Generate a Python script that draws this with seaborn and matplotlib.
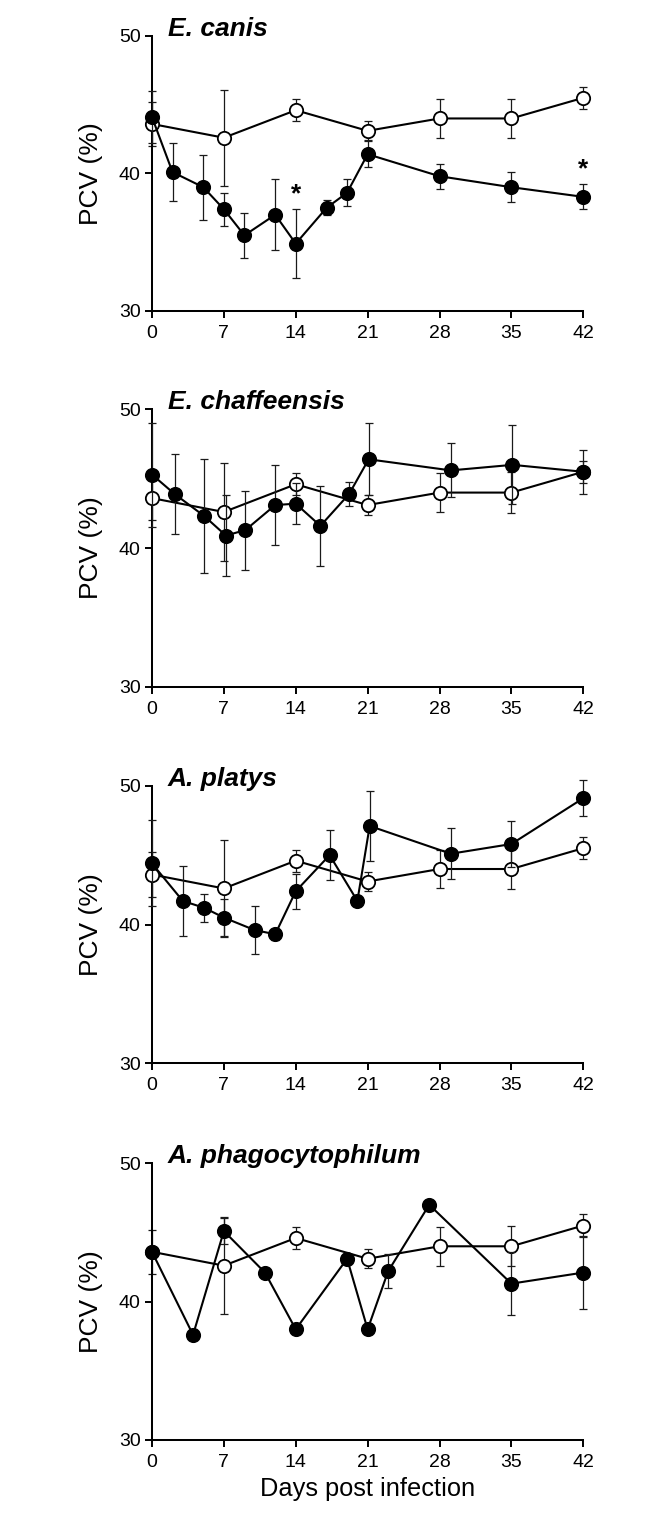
import matplotlib
matplotlib.use('Agg')
import matplotlib.pyplot as plt
import seaborn as sns
import pandas as pd

# control (uninfected) group, same in every panel
control_days = [0, 7, 14, 21, 28, 35, 42]
control_pcv = [43.6, 42.6, 44.6, 43.1, 44.0, 44.0, 45.5]
control_sd = [1.6, 3.5, 0.8, 0.7, 1.4, 1.45, 0.8]

# infected groups
canis_days = [0, 2, 5, 7, 9, 12, 14, 17, 19, 21, 28, 35, 42]
canis_pcv = [44.1, 40.1, 39.0, 37.4, 35.5, 37.0, 34.9, 37.5, 38.6, 41.4, 39.8, 39.0, 38.3]
canis_sd = [1.9, 2.1, 2.35, 1.2, 1.65, 2.6, 2.5, 0.55, 1.0, 0.95, 0.9, 1.1, 0.9]

chaff_days = [0, 2.2, 5.1, 7.2, 9.1, 12, 14, 16.4, 19.2, 21.1, 29.1, 35.1, 42]
chaff_pcv = [45.3, 43.9, 42.3, 40.9, 41.3, 43.1, 43.2, 41.6, 43.9, 46.4, 45.6, 46.0, 45.5]
chaff_sd = [3.75, 2.9, 4.1, 2.9, 2.85, 2.9, 1.5, 2.9, 0.85, 2.6, 1.95, 2.85, 1.6]

platys_days = [0, 3, 5.1, 7, 10, 12, 14, 17.3, 20, 21.2, 29.1, 35, 42]
platys_pcv = [44.4, 41.7, 41.2, 40.5, 39.6, 39.3, 42.4, 45.0, 41.7, 47.1, 45.1, 45.8, 49.1]
platys_sd = [3.1, 2.5, 1.0, 1.35, 1.7, 0.4, 1.25, 1.8, 0.0, 2.5, 1.85, 1.65, 1.3]

phago_days = [0, 4, 7, 11, 14, 19, 21, 23, 27, 35, 42]
phago_pcv = [43.6, 37.6, 45.1, 42.1, 38.0, 43.1, 38.0, 42.2, 47.0, 41.3, 42.1]
phago_sd = [0, 0.4, 0.95, 0, 0, 0, 0, 1.25, 0, 2.3, 2.65]

panel_titles = ['E. canis', 'E. chaffeensis', 'A. platys', 'A. phagocytophilum']
significant_days = [[14, 42], [], [], []]  # asterisks

x_ticks = [0, 7, 14, 21, 28, 35, 42]
y_ticks = [30, 40, 50]


def main():
    sns.set_style('ticks')
    plt.rcParams['font.family'] = ['Liberation Sans', 'DejaVu Sans']
    plt.rcParams.update({'text.color': 'black', 'axes.labelcolor': 'black',
                         'xtick.color': 'black', 'ytick.color': 'black'})

    fig = plt.figure(figsize=(6.66, 15.23), dpi=100)

    infected = [(canis_days, canis_pcv, canis_sd),
                (chaff_days, chaff_pcv, chaff_sd),
                (platys_days, platys_pcv, platys_sd),
                (phago_days, phago_pcv, phago_sd)]

    # axes boxes in figure fractions (left, bottom, width, height)
    boxes = [(0.2282, 0.7958, 0.6476, 0.1806),
             (0.2282, 0.5491, 0.6476, 0.1821),
             (0.2282, 0.3018, 0.6476, 0.1823),
             (0.2282, 0.0545, 0.6476, 0.1817)]

    ctrl = pd.DataFrame({'day': control_days, 'pcv': control_pcv})
    err_kw = dict(fmt='none', ecolor='#1a1a1a', elinewidth=0.9, capsize=2.9,
                  capthick=0.9, clip_on=False)
    mark_kw = dict(estimator=None, color='black', linewidth=1.5, marker='o',
                   markersize=9.6, markeredgecolor='black', markeredgewidth=1.3,
                   clip_on=False)

    for i, (days, pcv, sd) in enumerate(infected):
        ax = fig.add_axes(boxes[i])
        inf = pd.DataFrame({'day': days, 'pcv': pcv})

        # control: open circles
        ax.errorbar(control_days, control_pcv, yerr=control_sd, zorder=2, **err_kw)
        sns.lineplot(data=ctrl, x='day', y='pcv', ax=ax, markerfacecolor='white',
                     zorder=3, **mark_kw)

        # infected: filled circles
        ax.errorbar(days, pcv, yerr=sd, zorder=4, **err_kw)
        sns.lineplot(data=inf, x='day', y='pcv', ax=ax, markerfacecolor='black',
                     zorder=5, **mark_kw)

        for d in significant_days[i]:
            k = days.index(d)
            ax.text(d, pcv[k] + sd[k] + 0.2, '*', ha='center', va='bottom',
                    fontsize=19, fontweight='bold')

        ax.set_xlim(0, 42)
        ax.set_ylim(30, 50)
        ax.set_xticks(x_ticks)
        ax.set_yticks(y_ticks)
        ax.tick_params(axis='both', direction='out', length=5, width=1.4,
                       labelsize=14)
        ax.tick_params(axis='x', pad=5)
        ax.tick_params(axis='y', pad=3)
        for s in ['left', 'bottom']:
            ax.spines[s].set_linewidth(1.45)
            ax.spines[s].set_color('black')
        sns.despine(ax=ax)

        ax.set_ylabel('PCV (%)', fontsize=19)
        ax.yaxis.set_label_coords(-0.114, 0.5)
        if i == 3:
            ax.set_xlabel('Days post infection', fontsize=18.3, labelpad=4.5)
        else:
            ax.set_xlabel('')

        ax.text(0.037, 1.0, panel_titles[i], transform=ax.transAxes,
                ha='left', va='baseline', fontsize=19,
                fontweight='bold', fontstyle='italic')

    fig.savefig('out.png', dpi=100)


if __name__ == "__main__":
    main()
